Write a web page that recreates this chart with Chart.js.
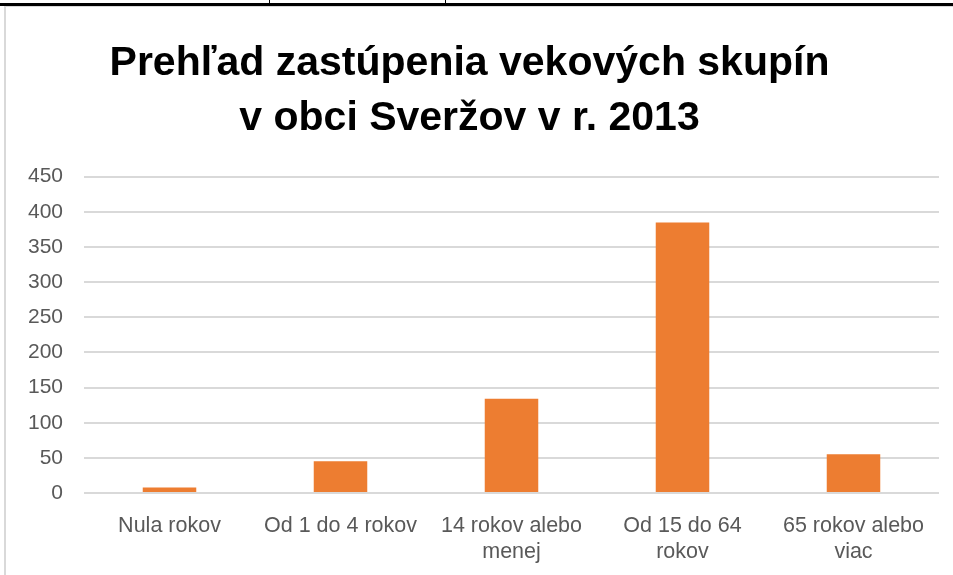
<!DOCTYPE html>
<html>
<head>
<meta charset="utf-8">
<script src="https://cdn.jsdelivr.net/npm/chart.js@4"></script>
<style>
    html, body { margin: 0; padding: 0; background: #fff; }
    #wrap { position: relative; width: 953px; height: 575px; overflow: hidden; }
    #chart { position: absolute; left: 0; top: 0; }
    .topline { position: absolute; left: 0; top: 3px; width: 953px; height: 3px; background: #000; }
    .tick { position: absolute; top: 0; width: 1px; height: 4px; background: #000; }
    .frame { position: absolute; left: 4px; top: 6px; width: 960px; height: 580px; border-left: 2px solid #d9d9d9; border-top: 1px solid #d9d9d9; }
</style>
</head>
<body>
<div id="wrap">
    <canvas id="chart" width="953" height="575"></canvas>
    <div class="frame"></div>
    <div class="topline"></div>
    <div class="tick" style="left:269px"></div>
    <div class="tick" style="left:445px"></div>
</div>
<script>
const categories = [
    'Nula rokov',
    'Od 1 do 4 rokov',
    ['14 rokov alebo', 'menej'],
    ['Od 15 do 64', 'rokov'],
    ['65 rokov alebo', 'viac']
];
const residents = [8, 45, 134, 385, 55];
const yTicks = [0, 50, 100, 150, 200, 250, 300, 350, 400, 450];
const chartTitle = ['Prehľad zastúpenia vekových skupín', 'v obci Sveržov v r. 2013'];

const textColor = '#595959';
const fontFamily = "'Liberation Sans', Arial, sans-serif";

new Chart(document.getElementById('chart'), {
    type: 'bar',
    data: {
        labels: categories,
        datasets: [{
            label: 'Počet obyvateľov',
            data: residents,
            backgroundColor: '#ED7D31',
            categoryPercentage: 1,
            barPercentage: 0.313
        }]
    },
    options: {
        responsive: false,
        animation: false,
        layout: { padding: { left: 0, right: 14, top: 36, bottom: 0 } },
        plugins: {
            legend: { display: false },
            tooltip: { enabled: false },
            title: {
                display: true,
                text: chartTitle,
                color: '#000',
                font: { family: fontFamily, size: 41, weight: 'bold', lineHeight: 1.35 },
                padding: { top: 0, bottom: 30 }
            }
        },
        scales: {
            x: {
                afterFit: (scale) => { scale.height = 82; },
                grid: { display: false },
                border: { display: false },
                ticks: {
                    color: textColor,
                    font: { family: fontFamily, size: 21.5, lineHeight: 1.22 },
                    padding: 12,
                    maxRotation: 0,
                    autoSkip: false
                }
            },
            y: {
                min: 0,
                max: 450,
                afterFit: (scale) => { scale.width = 84; },
                afterBuildTicks: (scale) => { scale.ticks = yTicks.map(v => ({ value: v })); },
                grid: { color: '#d9d9d9', lineWidth: 2, drawTicks: false },
                border: { display: false },
                ticks: {
                    color: textColor,
                    font: { family: fontFamily, size: 21 },
                    padding: 21
                }
            }
        }
    }
});
</script>
</body>
</html>
